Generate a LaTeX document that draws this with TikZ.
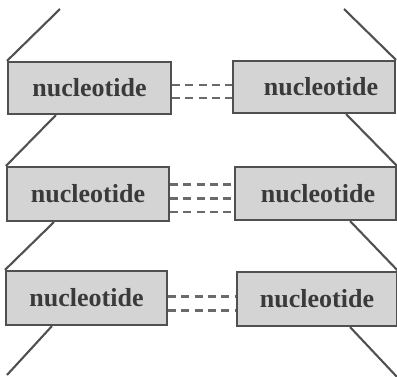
\documentclass[tikz,border=0pt]{standalone}
\usepackage{fontspec}
\setmainfont{Liberation Serif}
\definecolor{boxfill}{HTML}{D4D4D4}
\definecolor{edge}{HTML}{505050}
\definecolor{txt}{HTML}{3A3A3A}
\definecolor{dashc}{HTML}{6A6A6A}
\begin{document}
\begin{tikzpicture}[x=1pt,y=-1pt,
  nbox/.style={draw=edge, fill=boxfill, line width=2.1pt, rectangle, inner sep=0pt,
    text=txt, font=\fontsize{26}{28}\selectfont\bfseries},
  strand/.style={draw=edge, line width=2.1pt},
  hbond/.style={draw=dashc, line width=2.3pt, dash pattern=on 8pt off 5.3pt}]
\useasboundingbox (0,0) rectangle (397,377);
% nodes
\node[nbox, minimum width=163pt, minimum height=52pt] (L1) at (89.5,88) {nucleotide};
\node[nbox, minimum width=162pt, minimum height=54pt] (L2) at (88,194) {nucleotide};
\node[nbox, minimum width=161pt, minimum height=54pt] (L3) at (86.5,298) {nucleotide};
\node[nbox, minimum width=162pt, minimum height=52pt] (R1) at (314,87) {\hspace{14pt}nucleotide};
\node[nbox, minimum width=161pt, minimum height=53pt] (R2) at (315.5,193.5) {\hspace{5pt}nucleotide};
\node[nbox, minimum width=160pt, minimum height=54pt] (R3) at (317,299) {nucleotide};
% free ends
\coordinate (tl) at (60,9);
\coordinate (bl) at (7,375);
\coordinate (tr) at (344,9);
\coordinate (br) at (398,378);
% hydrogen bonds
\draw[hbond] ([yshift=3pt]L1.east) -- ([yshift=3pt]L1.east -| R1.west);
\draw[hbond] ([yshift=-10pt]L1.east) -- ([yshift=-10pt]L1.east -| R1.west);
\draw[hbond] ([yshift=9.5pt]L2.east) -- ([yshift=9.5pt]L2.east -| R2.west);
\draw[hbond] ([yshift=-4.5pt]L2.east) -- ([yshift=-4.5pt]L2.east -| R2.west);
\draw[hbond] ([yshift=-18pt]L2.east) -- ([yshift=-18pt]L2.east -| R2.west);
\draw[hbond] ([yshift=1.5pt]L3.east) -- ([yshift=1.5pt]L3.east -| R3.west);
\draw[hbond] ([yshift=-12.5pt]L3.east) -- ([yshift=-12.5pt]L3.east -| R3.west);
% backbone strands
\draw[strand] (tl) -- (L1.north west);
\draw[strand] ([xshift=49pt]L1.south west) -- (L2.north west);
\draw[strand] ([xshift=48pt]L2.south west) -- (L3.north west);
\draw[strand] ([xshift=47pt]L3.south west) -- (bl);
\draw[strand] (tr) -- (R1.north east);
\draw[strand] ([xshift=-50pt]R1.south east) -- (R2.north east);
\draw[strand] ([xshift=-47pt]R2.south east) -- (R3.north east);
\draw[strand] ([xshift=-48pt]R3.south east) -- (br);
\end{tikzpicture}
\end{document}
